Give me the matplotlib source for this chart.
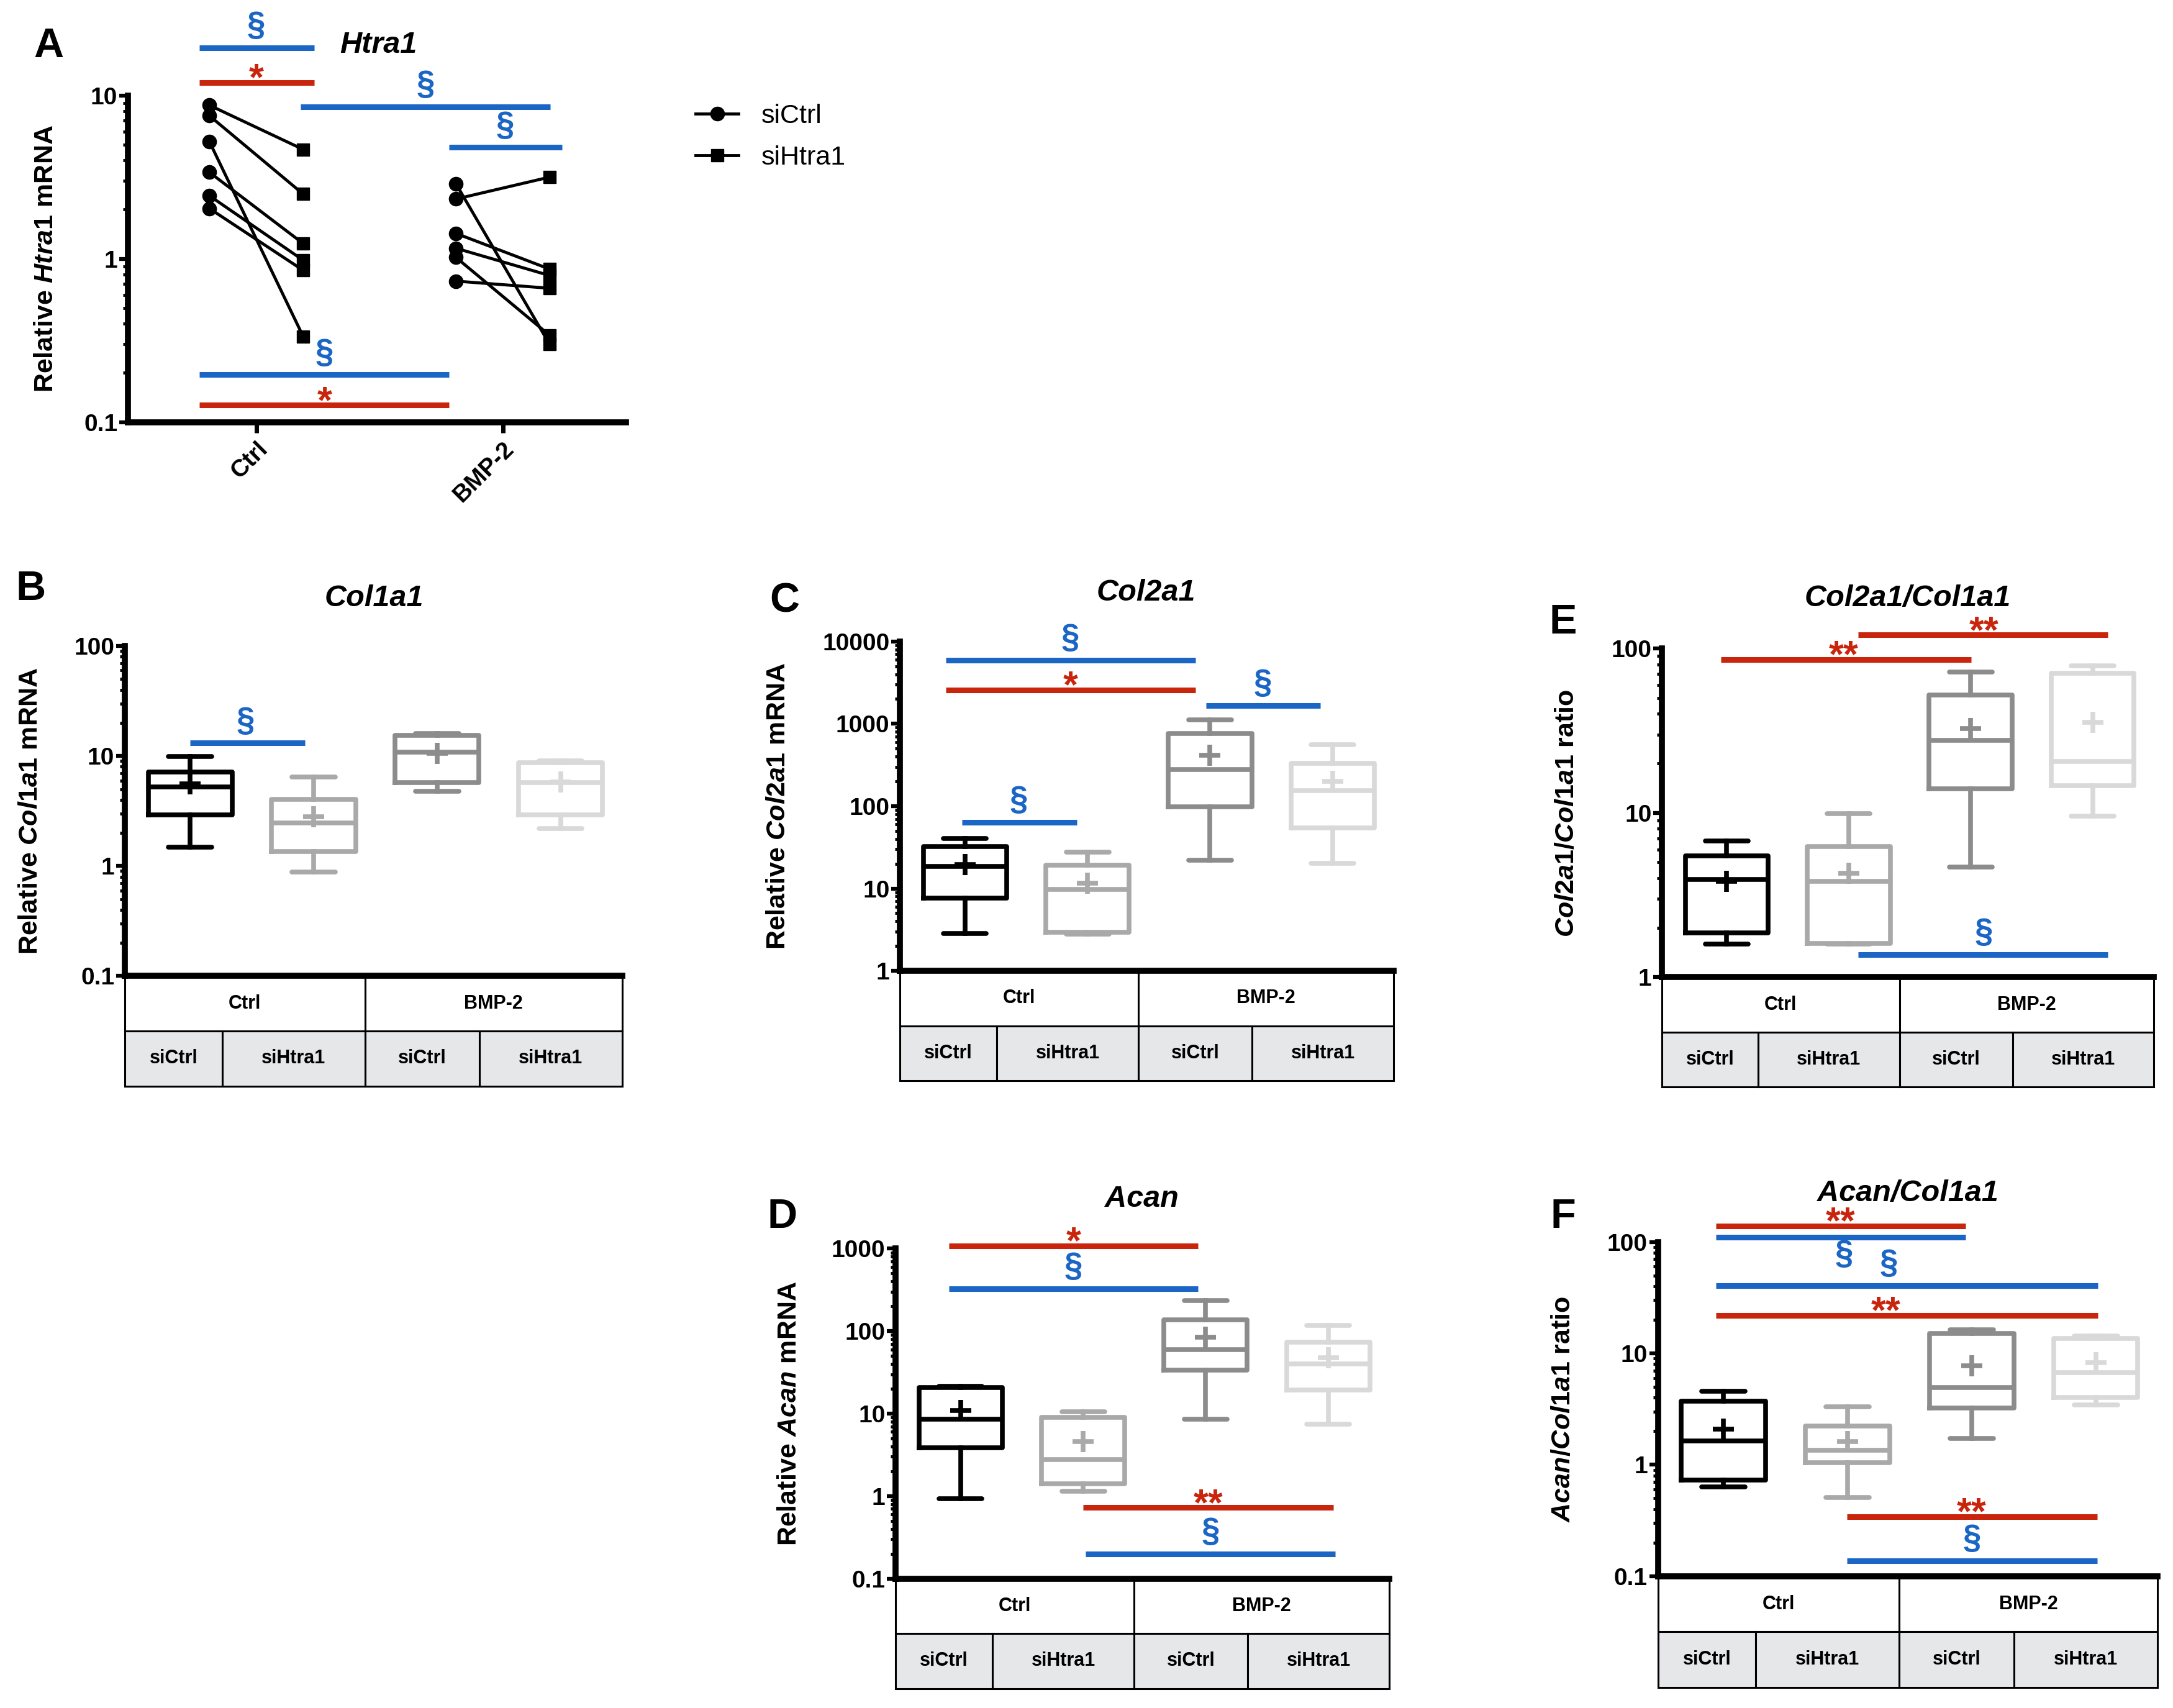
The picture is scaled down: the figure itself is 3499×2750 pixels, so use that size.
import matplotlib
matplotlib.use('Agg')
import matplotlib.pyplot as plt
from matplotlib.patches import Rectangle
from matplotlib.lines import Line2D
from matplotlib.ticker import LogLocator, NullFormatter, FuncFormatter

plt.rcParams['font.family'] = ['Liberation Sans', 'DejaVu Sans']
plt.rcParams['font.weight'] = 'bold'
plt.rcParams['mathtext.fontset'] = 'custom'
plt.rcParams['mathtext.it'] = 'Liberation Sans:italic:bold'
plt.rcParams['mathtext.rm'] = 'Liberation Sans:bold'
plt.rcParams['mathtext.bf'] = 'Liberation Sans:bold'

# ---- data -------------------------------------------------------------
groups = ['Ctrl', 'BMP-2']
treatments = ['siCtrl', 'siHtra1', 'siCtrl', 'siHtra1']

# panel A, paired values (same donor on each row)
htra1_ctrl_sictrl = [8.7, 7.5, 5.2, 3.38, 2.43, 2.03]
htra1_ctrl_sihtra1 = [4.67, 2.49, 0.335, 1.24, 0.98, 0.85]
htra1_bmp_sictrl = [2.88, 2.32, 1.43, 1.16, 1.02, 0.73]
htra1_bmp_sihtra1 = [0.30, 3.16, 0.865, 0.79, 0.34, 0.66]

# box panels: min, q1, median, q3, max, mean
col1a1_lo = [1.49, 0.88, 4.8, 2.18]
col1a1_q1 = [2.92, 1.35, 5.7, 2.92]
col1a1_med = [5.25, 2.47, 10.8, 5.7]
col1a1_q3 = [7.2, 4.06, 15.5, 8.7]
col1a1_hi = [9.9, 6.46, 16.1, 9.0]
col1a1_mean = [5.57, 2.8, 10.6, 5.8]

col2a1_lo = [2.84, 2.78, 22.1, 20.4]
col2a1_q1 = [7.65, 2.92, 99, 54]
col2a1_med = [18.7, 9.8, 280, 155]
col2a1_q3 = [32.3, 19.1, 757, 333]
col2a1_hi = [40.5, 27.8, 1127, 562]
col2a1_mean = [19.7, 11.6, 413, 202]

acan_lo = [0.93, 1.15, 8.55, 7.5]
acan_q1 = [3.82, 1.41, 33.4, 19.3]
acan_med = [8.6, 2.79, 60, 40.3]
acan_q3 = [20.8, 9.0, 137, 73]
acan_hi = [21.5, 10.6, 233, 117]
acan_mean = [10.9, 4.6, 84, 48]

c2c1_lo = [1.59, 1.59, 4.68, 9.6]
c2c1_q1 = [1.87, 1.6, 14, 14.7]
c2c1_med = [3.93, 3.85, 27.7, 20.6]
c2c1_q3 = [5.5, 6.24, 52.3, 70.6]
c2c1_hi = [6.72, 9.9, 72, 78.7]
c2c1_mean = [3.83, 4.3, 32.5, 35.6]

acc1_lo = [0.633, 0.506, 1.73, 3.43]
acc1_q1 = [0.728, 1.05, 3.25, 4.0]
acc1_med = [1.64, 1.35, 4.94, 6.73]
acc1_q3 = [3.7, 2.24, 15.0, 13.6]
acc1_hi = [4.57, 3.3, 16.2, 14.4]
acc1_mean = [2.1, 1.62, 7.75, 8.2]

# significance bars: (x0, x1, y, colour, symbol, symbol x, side)
htra1_sig = [(-0.23, 0.236, 19.5, 'b', '§', 0.0, 'above'),
             (-0.23, 0.236, 12, 'r', '*', 0.0, 'above'),
             (0.179, 1.194, 8.5, 'b', '§', 0.686, 'above'),
             (0.783, 1.24, 4.8, 'b', '§', 1.01, 'above'),
             (-0.23, 0.783, 0.195, 'b', '§', 0.277, 'above'),
             (-0.23, 0.783, 0.127, 'r', '*', 0.277, 'above')]
col1a1_sig = [(0.0, 0.93, 13.1, 'b', '§', 0.45, 'above')]
col2a1_sig = [(-0.155, 1.883, 5910, 'b', '§', 0.86, 'above'),
              (-0.155, 1.883, 2594, 'r', '*', 0.86, 'above'),
              (1.965, 2.9, 1675, 'b', '§', 2.43, 'above'),
              (-0.025, 0.912, 63.4, 'b', '§', 0.44, 'above')]
acan_sig = [(-0.095, 1.937, 1087, 'r', '*', 0.92, 'above'),
            (-0.095, 1.937, 327, 'b', '§', 0.92, 'above'),
            (1.0, 3.04, 0.73, 'r', '**', 2.02, 'above'),
            (1.018, 3.058, 0.2, 'b', '§', 2.04, 'above')]
c2c1_sig = [(-0.046, 2.003, 86, 'r', '**', 0.96, 'above'),
            (1.078, 3.127, 121, 'r', '**', 2.11, 'above'),
            (1.078, 3.127, 1.37, 'b', '§', 2.11, 'above')]
acc1_sig = [(-0.064, 1.952, 139.5, 'r', '**', 0.94, 'above'),
            (-0.064, 1.952, 109.7, 'b', '§', 0.97, 'below'),
            (-0.064, 3.017, 40.4, 'b', '§', 1.33, 'above'),
            (-0.064, 3.017, 22, 'r', '**', 1.31, 'above'),
            (0.992, 3.01, 0.343, 'r', '**', 2.0, 'above'),
            (0.992, 3.01, 0.137, 'b', '§', 2.0, 'above')]

# ---- style -------------------------------------------------------------
W, H = 1568.0, 1232.0
BLUE = '#1b65c5'
RED = '#c9250c'
SIGCOL = {'b': BLUE, 'r': RED}
BOXCOL = ['black', '#a9a9a9', '#8c8c8c', '#d9d9d9']
TABLE_GREY = '#e6e7e9'
COL_EDGES = [0, 0.196, 0.483, 0.713, 1.0]
GROUP_EDGES = [0, 0.483, 1.0]


def rect(l, r, t, b):
    return [l / W, 1 - b / H, (r - l) / W, (b - t) / H]


def style_log_axis(ax, ylim):
    ax.set_yscale('log')
    ax.set_ylim(*ylim)
    ax.yaxis.set_major_locator(LogLocator(base=10, numticks=10))
    ax.yaxis.set_minor_locator(LogLocator(base=10, subs=range(2, 10), numticks=20))
    ax.yaxis.set_minor_formatter(NullFormatter())
    ax.yaxis.set_major_formatter(FuncFormatter(lambda v, p: f'{v:g}'))
    for s in ['top', 'right']:
        ax.spines[s].set_visible(False)
    for s in ['left', 'bottom']:
        ax.spines[s].set_linewidth(7)
    ax.tick_params(axis='y', which='major', length=10, width=4.5, labelsize=28, pad=2)
    ax.tick_params(axis='y', which='minor', length=6, width=3.5)


def add_sig(ax, items):
    for x0, x1, y, c, txt, tx, side in items:
        col = SIGCOL[c]
        ax.plot([x0, x1], [y, y], color=col, lw=6.5, solid_capstyle='butt', clip_on=False)
        if txt == '§':
            size = 38
            off = 15 if side == 'above' else -30
        else:
            size = 44
            off = -8.5 if side == 'above' else -40
        ax.annotate(txt, (tx, y), xytext=(0, off), textcoords='offset points',
                    ha='center', va='baseline', color=col, fontsize=size,
                    fontweight='bold', annotation_clip=False)


def draw_table(ax):
    rh = 1 / 6
    for g, x0, x1 in zip(groups, GROUP_EDGES[:-1], GROUP_EDGES[1:]):
        ax.add_patch(Rectangle((x0, -rh), x1 - x0, rh, transform=ax.transAxes,
                               fc='white', ec='black', lw=2.2, clip_on=False))
        ax.text((x0 + x1) / 2, -rh / 2, g, transform=ax.transAxes, ha='center',
                va='center', fontsize=22, fontweight='bold')
    for t, x0, x1 in zip(treatments, COL_EDGES[:-1], COL_EDGES[1:]):
        ax.add_patch(Rectangle((x0, -2 * rh), x1 - x0, rh, transform=ax.transAxes,
                               fc=TABLE_GREY, ec='black', lw=2.2, clip_on=False))
        ax.text((x0 + x1) / 2, -1.5 * rh, t, transform=ax.transAxes, ha='center',
                va='center', fontsize=22, fontweight='bold')


def box_panel(box, lo, q1, med, q3, hi, mean, ylim, ylabel, label_x, sig):
    ax = fig.add_axes(rect(*box))
    stats = [dict(whislo=a, q1=b, med=c, q3=d, whishi=e, mean=f)
             for a, b, c, d, e, f in zip(lo, q1, med, q3, hi, mean)]
    art = ax.bxp(stats, positions=range(4), widths=0.68, capwidths=0.35,
                 showmeans=True, showfliers=False,
                 boxprops=dict(lw=5.5), whiskerprops=dict(lw=5.5),
                 capprops=dict(lw=5.5, solid_capstyle='round'),
                 medianprops=dict(lw=5.5),
                 meanprops=dict(marker='+', markersize=24, markeredgewidth=5.5))
    for i, c in enumerate(BOXCOL):
        art['boxes'][i].set_color(c)
        art['medians'][i].set_color(c)
        art['means'][i].set_markeredgecolor(c)
        for k in (2 * i, 2 * i + 1):
            art['whiskers'][k].set_color(c)
            art['caps'][k].set_color(c)
    ax.set_xlim(-0.53, 3.5)
    style_log_axis(ax, ylim)
    ax.set_xticks([])
    ax.set_ylabel(ylabel, fontsize=31, fontweight='bold')
    ax.yaxis.set_label_coords(label_x, 0.5)
    draw_table(ax)
    add_sig(ax, sig)
    return ax


fig = plt.figure(figsize=(34.99, 27.5), dpi=100)

# ---- panel A -------------------------------------------------------------
axA = fig.add_axes(rect(92.3, 451.5, 68.8, 304.5))
d = 0.19
for xc, left, right in [(0, htra1_ctrl_sictrl, htra1_ctrl_sihtra1),
                        (1, htra1_bmp_sictrl, htra1_bmp_sihtra1)]:
    for y0, y1 in zip(left, right):
        axA.plot([xc - d, xc + d], [y0, y1], color='black', lw=3.5)
    axA.plot([xc - d] * len(left), left, 'o', color='black', ms=16)
    axA.plot([xc + d] * len(right), right, 's', color='black', ms=15)
axA.set_xlim(-0.521, 1.499)
style_log_axis(axA, (0.1, 10))
axA.set_xticks([0, 1])
axA.set_xticklabels(groups, rotation=45, ha='right', rotation_mode='anchor')
axA.tick_params(axis='x', length=12, width=5, labelsize=28, pad=6)
axA.set_ylabel(r'Relative $\mathit{Htra1}$ mRNA', fontsize=31, fontweight='bold')
axA.yaxis.set_label_coords(-0.14, 0.5)
add_sig(axA, htra1_sig)

handles = [Line2D([], [], color='black', marker='o', ms=16, lw=3.5, label='siCtrl'),
           Line2D([], [], color='black', marker='s', ms=15, lw=3.5, label='siHtra1')]
fig.legend(handles=handles, loc='upper left', bbox_to_anchor=(502 / W, 1 - 75 / H),
           frameon=False, prop={'size': 31, 'weight': 'normal'}, numpoints=1,
           handlelength=1.6, handletextpad=0.85, labelspacing=0.62,
           borderpad=0, borderaxespad=0)

# ---- box panels ----------------------------------------------------------
box_panel((90, 449, 466, 704), col1a1_lo, col1a1_q1, col1a1_med, col1a1_q3,
          col1a1_hi, col1a1_mean, (0.1, 100), r'Relative $\mathit{Col1a1}$ mRNA',
          -0.164, col1a1_sig)
box_panel((649.4, 1005.8, 462.7, 700.3), col2a1_lo, col2a1_q1, col2a1_med,
          col2a1_q3, col2a1_hi, col2a1_mean, (1, 10000),
          r'Relative $\mathit{Col2a1}$ mRNA', -0.221, col2a1_sig)
box_panel((1199.3, 1554, 467.8, 704.9), c2c1_lo, c2c1_q1, c2c1_med, c2c1_q3,
          c2c1_hi, c2c1_mean, (1, 100), r'$\mathit{Col2a1/Col1a1}$ ratio',
          -0.168, c2c1_sig)
box_panel((646.3, 1002.6, 900.7, 1138.6), acan_lo, acan_q1, acan_med, acan_q3,
          acan_hi, acan_mean, (0.1, 1000), r'Relative $\mathit{Acan}$ mRNA',
          -0.19, acan_sig)
box_panel((1196.3, 1557, 895.8, 1136.9), acc1_lo, acc1_q1, acc1_med, acc1_q3,
          acc1_hi, acc1_mean, (0.1, 100), r'$\mathit{Acan/Col1a1}$ ratio',
          -0.165, acc1_sig)

# ---- titles and panel letters -------------------------------------------
titles = [('Htra1', 273, 32.7), ('Col1a1', 270, 431.5), ('Col2a1', 827, 427.6),
          ('Col2a1/Col1a1', 1376.6, 431.5), ('Acan', 824, 864.7),
          ('Acan/Col1a1', 1376.6, 860.7)]
for t, x, y in titles:
    fig.text(x / W, 1 - y / H, t, ha='center', va='center', fontsize=35,
             fontweight='bold', fontstyle='italic')

letters = [('A', 35, 33.8), ('B', 22, 425), ('C', 566, 434), ('E', 1127.7, 449.4),
           ('D', 564.4, 878.2), ('F', 1127.7, 878.2)]
for t, x, y in letters:
    fig.text(x / W, 1 - y / H, t, ha='center', va='center', fontsize=48,
             fontweight='bold')

fig.savefig('out.png', dpi=100, facecolor='white')
